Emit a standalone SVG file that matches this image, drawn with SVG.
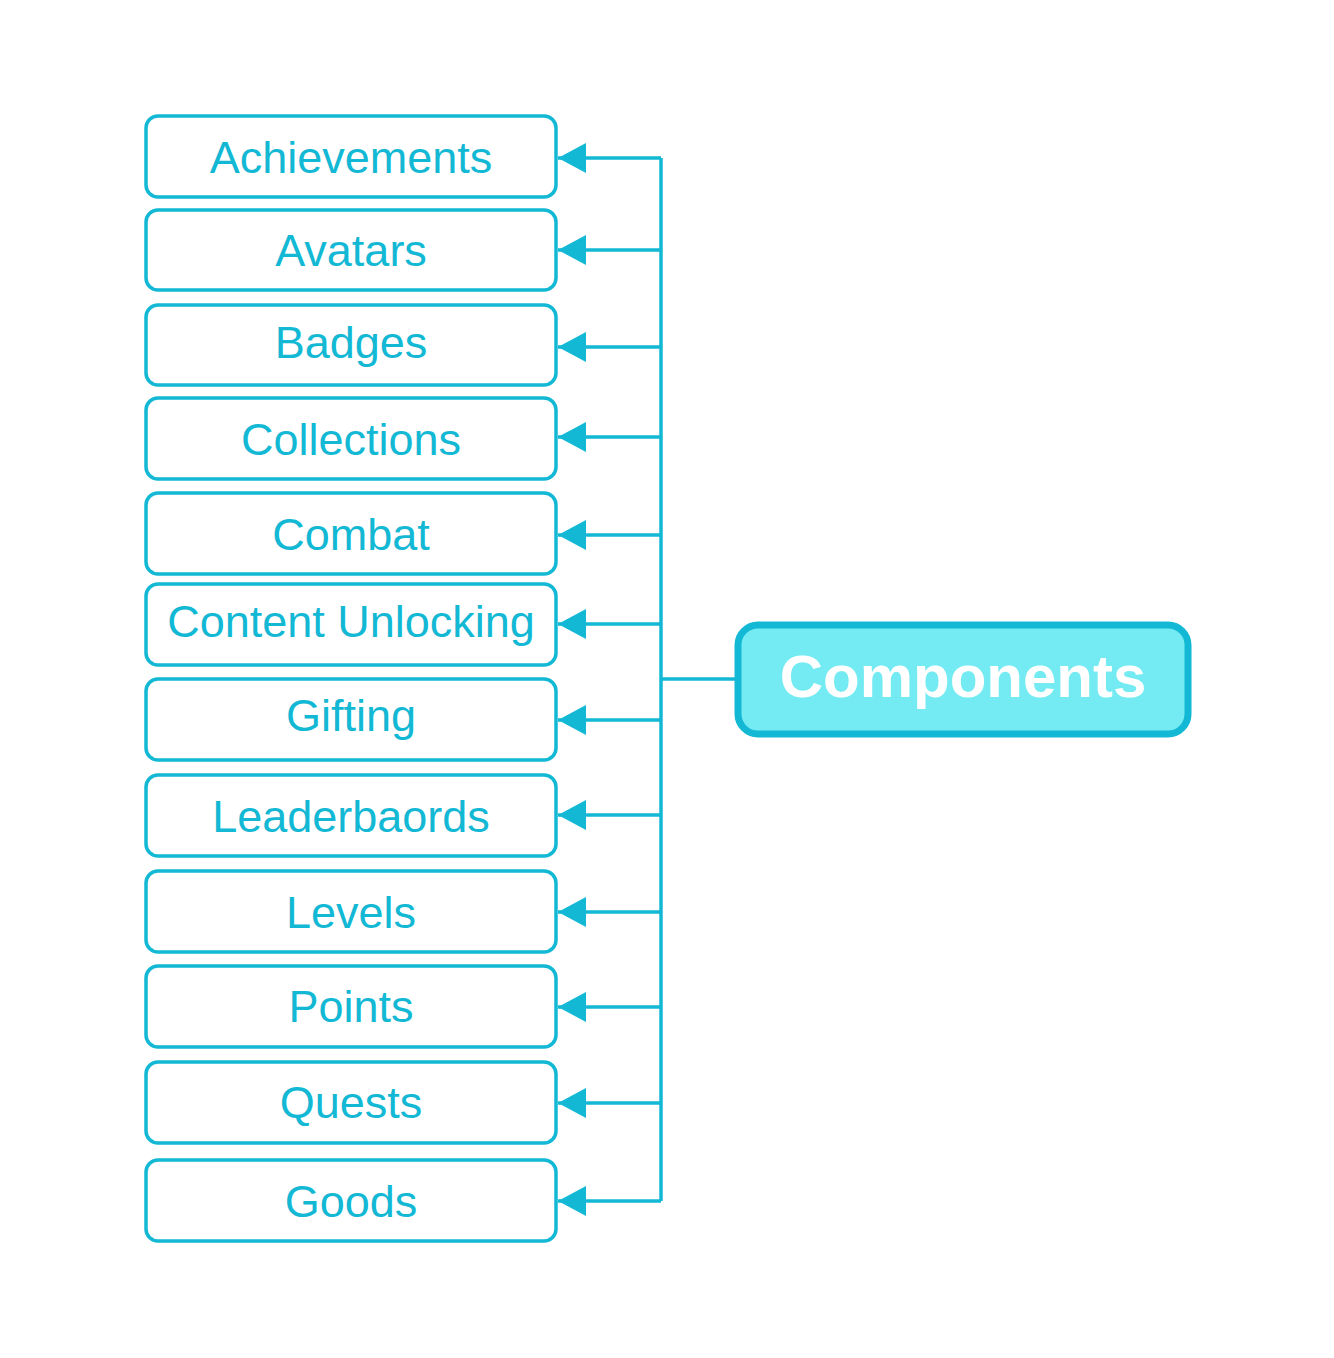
<svg xmlns="http://www.w3.org/2000/svg" width="1334" height="1358" viewBox="0 0 1334 1358">
<style>
.box{fill:#fff;stroke:#12B8D4;stroke-width:3.5}
.lbl{font-family:"Liberation Sans",Arial,sans-serif;font-size:45px;fill:#12B8D4;text-anchor:middle}
.conn{fill:none;stroke:#12B8D4;stroke-width:3.5}
.main{fill:#74EBF2;stroke:#12B8D4;stroke-width:7}
.mlbl{font-family:"Liberation Sans",Arial,sans-serif;font-size:60px;font-weight:bold;fill:#fff;text-anchor:middle}
</style>
<defs>
<marker id="ah" markerUnits="userSpaceOnUse" markerWidth="30" markerHeight="32" refX="28" refY="16" orient="auto" viewBox="0 0 30 32">
<path d="M0,1 L28,16 L0,31 Z" fill="#12B8D4"/>
</marker>
</defs>
<rect width="1334" height="1358" fill="#fff"/>
<g id="connectors">
<path class="conn" d="M737,679 H661"/>
<path class="conn" d="M661,158 V1201"/>
<path class="conn" d="M661,158 H558" marker-end="url(#ah)"/>
<path class="conn" d="M661,250 H558" marker-end="url(#ah)"/>
<path class="conn" d="M661,347 H558" marker-end="url(#ah)"/>
<path class="conn" d="M661,437 H558" marker-end="url(#ah)"/>
<path class="conn" d="M661,535 H558" marker-end="url(#ah)"/>
<path class="conn" d="M661,624 H558" marker-end="url(#ah)"/>
<path class="conn" d="M661,720 H558" marker-end="url(#ah)"/>
<path class="conn" d="M661,815 H558" marker-end="url(#ah)"/>
<path class="conn" d="M661,912 H558" marker-end="url(#ah)"/>
<path class="conn" d="M661,1007 H558" marker-end="url(#ah)"/>
<path class="conn" d="M661,1103 H558" marker-end="url(#ah)"/>
<path class="conn" d="M661,1201 H558" marker-end="url(#ah)"/>
</g>
<g id="components"><rect class="main" x="738" y="625" width="450" height="109" rx="20"/><text class="mlbl" x="963" y="697">Components</text></g>
<g id="achievements"><rect class="box" x="146" y="116" width="410" height="81" rx="12"/><text class="lbl" x="351" y="173">Achievements</text></g>
<g id="avatars"><rect class="box" x="146" y="210" width="410" height="80" rx="12"/><text class="lbl" x="351" y="266">Avatars</text></g>
<g id="badges"><rect class="box" x="146" y="305" width="410" height="80" rx="12"/><text class="lbl" x="351" y="358">Badges</text></g>
<g id="collections"><rect class="box" x="146" y="398" width="410" height="81" rx="12"/><text class="lbl" x="351" y="455">Collections</text></g>
<g id="combat"><rect class="box" x="146" y="493" width="410" height="81" rx="12"/><text class="lbl" x="351" y="550">Combat</text></g>
<g id="content-unlocking"><rect class="box" x="146" y="584" width="410" height="81" rx="12"/><text class="lbl" x="351" y="637">Content Unlocking</text></g>
<g id="gifting"><rect class="box" x="146" y="679" width="410" height="81" rx="12"/><text class="lbl" x="351" y="731">Gifting</text></g>
<g id="leaderbaords"><rect class="box" x="146" y="775" width="410" height="81" rx="12"/><text class="lbl" x="351" y="832">Leaderbaords</text></g>
<g id="levels"><rect class="box" x="146" y="871" width="410" height="81" rx="12"/><text class="lbl" x="351" y="928">Levels</text></g>
<g id="points"><rect class="box" x="146" y="966" width="410" height="81" rx="12"/><text class="lbl" x="351" y="1022">Points</text></g>
<g id="quests"><rect class="box" x="146" y="1062" width="410" height="81" rx="12"/><text class="lbl" x="351" y="1118">Quests</text></g>
<g id="goods"><rect class="box" x="146" y="1160" width="410" height="81" rx="12"/><text class="lbl" x="351" y="1217">Goods</text></g>
</svg>
